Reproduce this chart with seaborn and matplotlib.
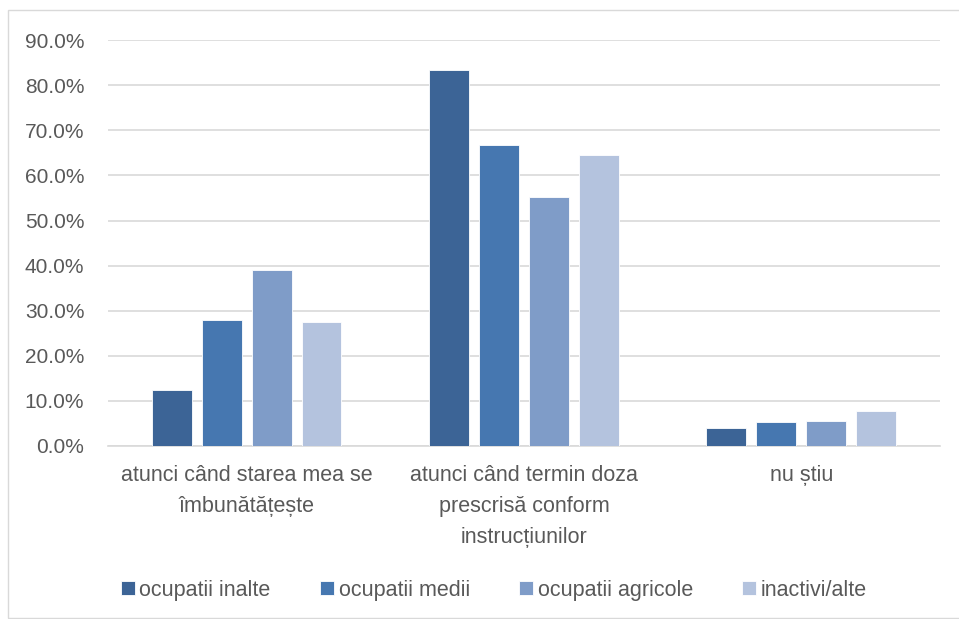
import pandas as pd
import numpy as np
import seaborn as sns
import matplotlib.pyplot as plt
from matplotlib.patches import Rectangle
from matplotlib.ticker import FuncFormatter

categories = ['atunci când starea mea se\nîmbunătățește',
              'atunci când termin doza\nprescrisă conform\ninstrucțiunilor',
              'nu știu']
groups = ['ocupatii inalte', 'ocupatii medii', 'ocupatii agricole', 'inactivi/alte']
inalte = [12.4, 83.4, 4.0]
medii = [27.9, 66.7, 5.3]
agricole = [39.1, 55.2, 5.6]
inactivi = [27.6, 64.5, 7.8]
colors = ['#3C6496', '#4677B0', '#7F9CC8', '#B4C3DE']

df = pd.DataFrame({'cat': categories * 4,
                   'grup': np.repeat(groups, 3),
                   'val': inalte + medii + agricole + inactivi})

sns.set_style('white')
plt.rcParams['font.family'] = ['Liberation Sans', 'DejaVu Sans']
txt = '#595959'

fig = plt.figure(figsize=(9.59, 6.19), dpi=100)
ax = fig.add_axes([0.1126, 0.2795, 0.8675, 0.6555])
sns.barplot(data=df, x='cat', y='val', hue='grup', palette=colors, saturation=1,
            width=0.72, gap=0.2, ax=ax, edgecolor='white', linewidth=0.6,
            zorder=3)

ax.set_xlim(-0.5, 2.5)
ax.set_ylim(0, 90)
ax.set_yticks(np.arange(0, 91, 10))
ax.yaxis.set_major_formatter(FuncFormatter(lambda v, p: f'{v:.1f}%'))
ax.grid(axis='y', color='#D9D9D9', linewidth=1.2, zorder=0)
for s in ['top', 'right', 'left']:
    ax.spines[s].set_visible(False)
ax.spines['bottom'].set_color('#D9D9D9')
ax.spines['bottom'].set_linewidth(1.2)
ax.tick_params(axis='x', length=0, colors=txt, labelsize=15.5, pad=14)
ax.tick_params(axis='y', length=0, colors=txt, labelsize=15, pad=17)
for lbl in ax.get_xticklabels():
    lbl.set_linespacing(1.6)
ax.set_xlabel('')
ax.set_ylabel('')

leg = ax.legend(loc='center', bbox_to_anchor=(0.464, -0.355), ncol=4,
                frameon=False, fontsize=15.5, handlelength=0.65, handleheight=0.65,
                handletextpad=0.2, columnspacing=2.3)
for t in leg.get_texts():
    t.set_color(txt)

fig.patches.append(Rectangle((0.008, 0.002), 1.5, 0.982, transform=fig.transFigure,
                             fill=False, edgecolor='#D9D9D9', linewidth=1))

fig.savefig('out.png', dpi=100)
